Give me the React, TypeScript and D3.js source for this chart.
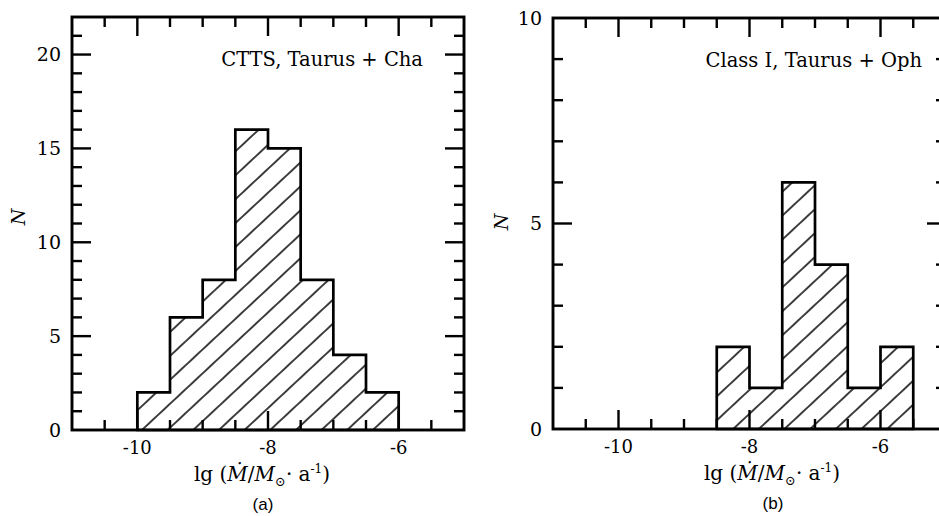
import React from "react";
import * as d3 from "d3";

// histogram (a): CTTS, Taurus + Cha
const binStartA = [-10, -9.5, -9, -8.5, -8, -7.5, -7, -6.5];
const countsA = [2, 6, 8, 16, 15, 8, 4, 2];
// histogram (b): Class I, Taurus + Oph
const binStartB = [-8.5, -8, -7.5, -7, -6.5, -6];
const countsB = [2, 1, 6, 4, 1, 2];
const binWidth = 0.5;

const xTickLabels = [-10, -8, -6];
const yTickLabelsA = [0, 5, 10, 15, 20];
const yTickLabelsB = [0, 5, 10];

const W = 939;
const H = 516;
const serif = "'DejaVu Serif', 'Liberation Serif', serif";

type PanelProps = {
  left: number;
  right: number;
  top: number;
  bottom: number;
  yMax: number;
  starts: number[];
  counts: number[];
  yLabels: number[];
  note: string;
  noteX: number;
  titleX: number;
  tag: string;
  nX: number;
  nY: number;
  yLabelX: number;
};

const Panel = (p: PanelProps) => {
  const x = d3.scaleLinear().domain([-11, -5]).range([p.left, p.right]);
  const y = d3.scaleLinear().domain([0, p.yMax]).range([p.bottom, p.top]);

  const pts = p.starts.map((s, i) => ({ x: s, n: p.counts[i] }));
  pts.push({ x: p.starts[p.starts.length - 1] + binWidth, n: p.counts[p.counts.length - 1] });

  const area = d3
    .area<{ x: number; n: number }>()
    .x((d) => x(d.x))
    .y0(y(0))
    .y1((d) => y(d.n))
    .curve(d3.curveStepAfter);

  const xTicks = d3.range(-10.5, -5, 0.5);
  const yTicks = d3.range(1, p.yMax, 1);

  return (
    <g>
      <path d={area(pts) || ""} fill="url(#hatch)" stroke="#000" strokeWidth={2.7} strokeLinejoin="miter" />

      {/* x ticks top and bottom */}
      {xTicks.map((t) => {
        const major = xTickLabels.includes(t);
        const len = major ? 19 : 10;
        return (
          <g key={"x" + t} stroke="#000" strokeWidth={2.4}>
            <line x1={x(t)} x2={x(t)} y1={p.top} y2={p.top + len} />
            <line x1={x(t)} x2={x(t)} y1={p.bottom} y2={p.bottom - len} />
          </g>
        );
      })}
      {/* y ticks left and right */}
      {yTicks.map((t) => {
        const major = t % 5 === 0;
        const len = major ? 19 : 10;
        return (
          <g key={"y" + t} stroke="#000" strokeWidth={2.4}>
            <line x1={p.left} x2={p.left + len} y1={y(t)} y2={y(t)} />
            <line x1={p.right} x2={p.right - len} y1={y(t)} y2={y(t)} />
          </g>
        );
      })}

      <rect x={p.left} y={p.top} width={p.right - p.left} height={p.bottom - p.top} fill="none" stroke="#000" strokeWidth={2.9} />

      {xTickLabels.map((t) => (
        <text key={"xl" + t} x={x(t)} y={p.bottom + 24} textAnchor="middle" fontFamily={serif} fontSize={18}>
          {t}
        </text>
      ))}
      {p.yLabels.map((t) => (
        <text key={"yl" + t} x={p.yLabelX} y={y(t)} dy="0.35em" textAnchor="end" fontFamily={serif} fontSize={19}>
          {t}
        </text>
      ))}

      <text x={p.noteX} y={p.top + 49} textAnchor="end" fontFamily={serif} fontSize={19.5}>
        {p.note}
      </text>

      <text transform={`translate(${p.nX},${p.nY}) rotate(-90)`} textAnchor="middle" dy="0.35em" fontFamily={serif} fontStyle="italic" fontSize={19}>
        N
      </text>

      <text x={p.titleX} y={p.bottom + 51} textAnchor="middle" fontFamily={serif} fontSize={20}>
        <tspan>lg (</tspan>
        <tspan fontStyle="italic">Ṁ</tspan>
        <tspan>/</tspan>
        <tspan fontStyle="italic">M</tspan>
        <tspan fontSize={13} dy={5}>⊙</tspan>
        <tspan dy={-5}>· a</tspan>
        <tspan fontSize={12} dy={-8}>-1</tspan>
        <tspan dy={8}>)</tspan>
      </text>
      <text x={p.titleX + 1} y={p.bottom + 80} textAnchor="middle" fontFamily="'Liberation Sans', Arial, sans-serif" fontSize={17}>
        {p.tag}
      </text>
    </g>
  );
};

export default function App() {
  return (
    <svg width={W} height={H} style={{ position: "absolute", left: 0, top: 0, background: "#fff" }}>
      <defs>
        <pattern id="hatch" patternUnits="userSpaceOnUse" width={10} height={17.5} patternTransform="rotate(-43)">
          <line x1={0} x2={10} y1={8.75} y2={8.75} stroke="#000" strokeWidth={1.5} />
        </pattern>
      </defs>
      <rect width={W} height={H} fill="#fff" />
      <Panel
        left={72}
        right={464}
        top={17}
        bottom={430}
        yMax={22}
        starts={binStartA}
        counts={countsA}
        yLabels={yTickLabelsA}
        note="CTTS, Taurus + Cha"
        noteX={423}
        titleX={262}
        tag="(a)"
        nX={18}
        nY={217}
        yLabelX={61}
      />
      <Panel
        left={553}
        right={946}
        top={18}
        bottom={429}
        yMax={10}
        starts={binStartB}
        counts={countsB}
        yLabels={yTickLabelsB}
        note="Class I, Taurus + Oph"
        noteX={922}
        titleX={772}
        tag="(b)"
        nX={501}
        nY={222}
        yLabelX={542}
      />
    </svg>
  );
}
